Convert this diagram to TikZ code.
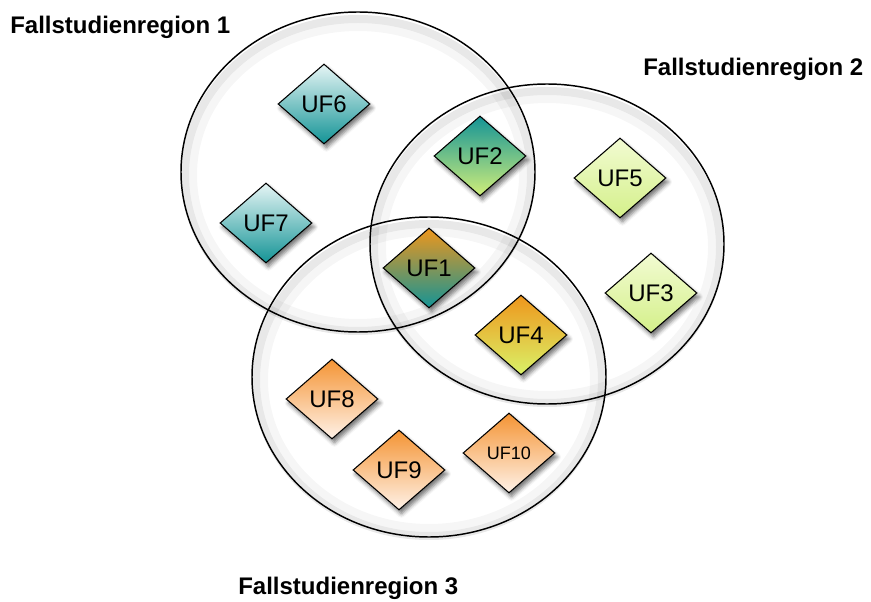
\documentclass[tikz,border=0pt]{standalone}
\usepackage{fontspec}
\setmainfont{Liberation Sans}
\usetikzlibrary{shapes.geometric,shadows.blur}

\definecolor{ufteal}{RGB}{20,148,150}
\definecolor{ufcyan}{RGB}{230,245,245}
\definecolor{uflime}{RGB}{208,238,122}
\definecolor{ufpale}{RGB}{242,251,210}
\definecolor{ufgreen}{RGB}{212,240,138}
\definecolor{uforange}{RGB}{238,150,28}
\definecolor{ufyellow}{RGB}{218,242,104}
\definecolor{ufpeach}{RGB}{244,148,52}
\definecolor{ufcream}{RGB}{255,242,232}

\tikzstyle{region} = [ellipse,draw=black,line width=1.1pt,minimum width=265.5pt,minimum height=240pt,inner sep=0]
\tikzstyle{regionglow} = [ellipse,draw=black,draw opacity=0.06,line width=6pt,minimum width=259.5pt,minimum height=234pt,inner sep=0]
\tikzstyle{regionglowin} = [ellipse,draw=black,draw opacity=0.035,line width=12pt,minimum width=253.5pt,minimum height=228pt,inner sep=0]
\tikzstyle{uf} = [diamond,draw=black,line width=0.8pt,minimum width=69pt,minimum height=60pt,inner sep=0,font=\fontsize{18}{20}\selectfont,blur shadow={shadow xshift=1.8pt,shadow yshift=-3pt,shadow opacity=55,shadow blur radius=3pt}]
\tikzstyle{title} = [anchor=west,inner sep=0,font=\fontsize{18}{20}\selectfont\bfseries]

\begin{document}
\begin{tikzpicture}[x=0.75pt,y=-0.75pt]
	\useasboundingbox (0,0) rectangle (871,602);
	\begin{scope}
		
		\node (g1) at (358,175) [regionglow] {};
		\node (g2) at (547,247) [regionglow] {};
		\node (g3) at (429,380) [regionglow] {};
		\node (h1) at (358,175) [regionglowin] {};
		\node (h2) at (547,247) [regionglowin] {};
		\node (h3) at (429,380) [regionglowin] {};
		
		\node (fr1) at (358,172) [region] {};
		\node (fr2) at (547,244) [region] {};
		\node (fr3) at (429,377) [region] {};
		
		\node (t1) at (10,27) [title] {Fallstudienregion 1};
		\node (t2) at (643,69) [title] {Fallstudienregion 2};
		\node (t3) at (238,588) [title] {Fallstudienregion 3};
		
		\node (uf6) at (324,104) [uf,top color=ufcyan,bottom color=ufteal] {UF6};
		\node (uf7) at (266,223) [uf,top color=ufcyan,bottom color=ufteal] {UF7};
		\node (uf2) at (480,156) [uf,top color=ufteal,bottom color=uflime] {UF2};
		\node (uf5) at (620,178) [uf,top color=ufpale,bottom color=ufgreen] {UF5};
		\node (uf1) at (429,268) [uf,top color=uforange,bottom color=ufteal] {UF1};
		\node (uf3) at (651,293) [uf,top color=ufpale,bottom color=ufgreen] {UF3};
		\node (uf4) at (521,335) [uf,top color=uforange,bottom color=ufyellow] {UF4};
		\node (uf8) at (332,399) [uf,top color=ufpeach,bottom color=ufcream] {UF8};
		\node (uf9) at (399,470) [uf,top color=ufpeach,bottom color=ufcream] {UF9};
		\node (uf10) at (509,453) [uf,top color=ufpeach,bottom color=ufcream,font=\fontsize{13.5}{15}\selectfont] {UF10};
	\end{scope}
\end{tikzpicture}
\end{document}
